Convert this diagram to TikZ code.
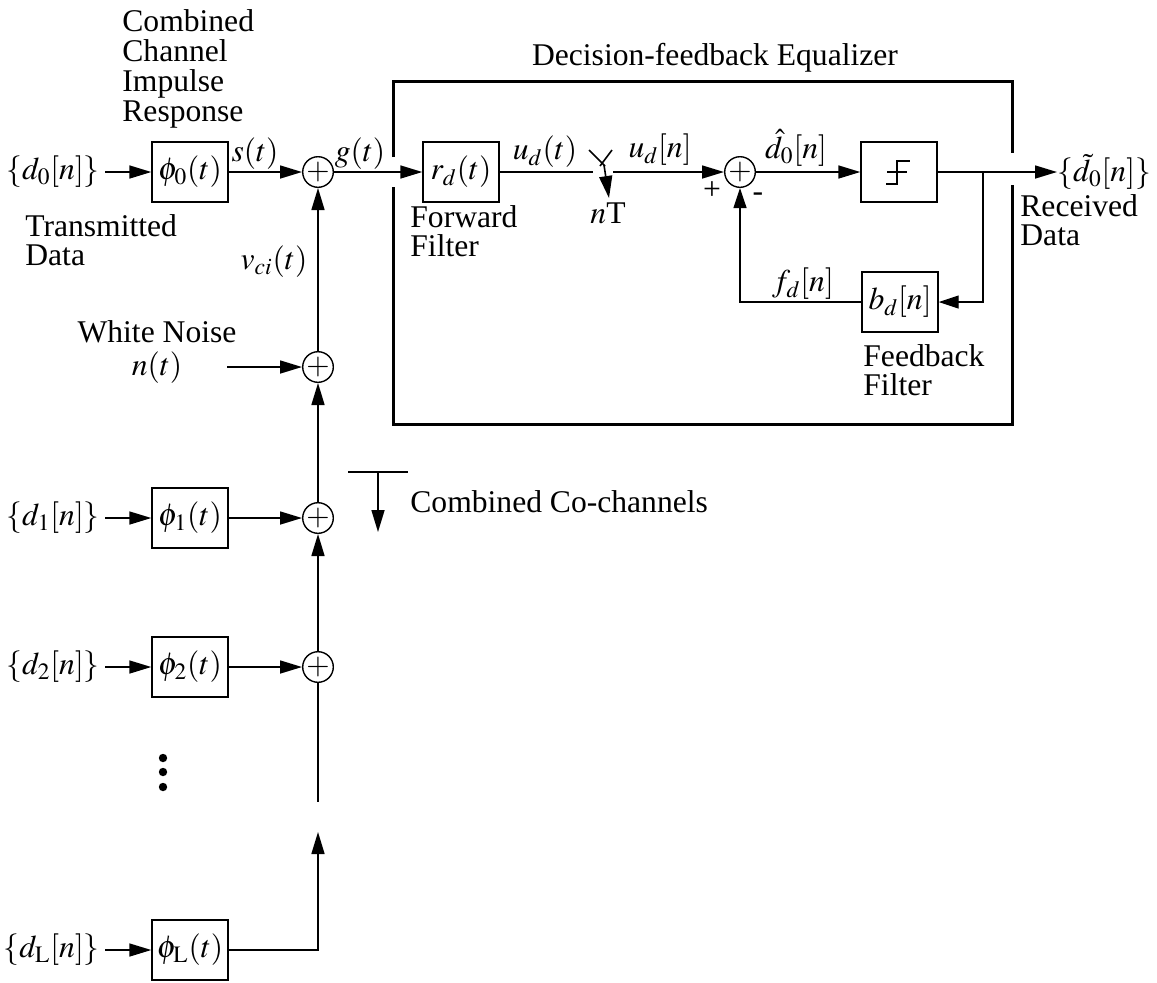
\documentclass[tikz,border=0pt]{standalone}
\usepackage{mathptmx}
\usepackage{fontspec}
\setmainfont{Liberation Serif}
\usetikzlibrary{positioning,arrows.meta,calc}

\begin{document}
\begin{tikzpicture}[
    x=0.5pt, y=-0.5pt,
    font=\fontsize{15.8}{14.5}\selectfont,
    blk/.style={draw, line width=0.7pt, minimum width=38pt, minimum height=30pt, inner sep=0pt},
    sumnode/.style={draw, circle, line width=0.7pt, minimum size=15pt, inner sep=0pt,
                    font=\fontsize{15}{15}\selectfont},
    src/.style={anchor=east, inner sep=2.5pt},
    lbl/.style={inner sep=0pt},
    txt/.style={align=left, inner sep=0pt, anchor=west},
    sig/.style={line width=0.8pt},
    arr/.style={sig, -{Triangle[length=11pt,width=6.5pt]}},
    fb/.style={line width=0.6pt},
    fbarr/.style={fb, -{Triangle[length=10pt,width=6.5pt]}},
    frame/.style={line width=1.5pt}
  ]
  \useasboundingbox (0,0) rectangle (1157,982);

  % ========= desired user, channel 0 =========
  \node[src]  (d0)   at (105,172) {$\{d_0[n]\}$};
  \node[blk]  (phi0) at (190,172) {$\phi_0(t)$};
  \node[sumnode] (sum1) at (318,172) {$+$};
  \node[txt, font=\fontsize{15.8}{15}\selectfont] (cir) at (122,69) {Combined\\Channel\\Impulse\\Response};
  \node[txt] (tx)  at (25,240) {Transmitted\\Data};
  \node[lbl] (s)   at (255,154) {$s(t)$};
  \node[lbl] (g)   at (360,154) {$g(t)$};

  \draw[arr] (d0) -- (phi0);
  \draw[arr] (phi0) -- (sum1);

  % ========= noise and co-channels =========
  \node[sumnode] (sumn) at (318,367) {$+$};
  \node[align=center, inner sep=0pt] (noise) at (157,352) {White Noise\\[2pt]$n(t)$};
  \coordinate (nin) at (227,367);
  \node[lbl] (vci) at (274,262) {$v_{ci}(t)$};

  \node[src]  (d1)   at (105,518) {$\{d_1[n]\}$};
  \node[blk]  (phi1) at (190,518) {$\phi_1(t)$};
  \node[sumnode] (sum3) at (318,518) {$+$};

  \node[src]  (d2)   at (105,667) {$\{d_2[n]\}$};
  \node[blk]  (phi2) at (190,667) {$\phi_2(t)$};
  \node[sumnode] (sum4) at (318,667) {$+$};

  \foreach \y in {758,772,787} \fill (163,\y) circle (2.1pt);

  \node[src]  (dL)   at (105,950) {$\{d_{\mathrm{L}}[n]\}$};
  \node[blk]  (phiL) at (190,950) {$\phi_{\mathrm{L}}(t)$};
  \coordinate (gapt) at (318,802);
  \coordinate (gapb) at (318,832);

  \draw[arr] (nin) -- (sumn);
  \draw[arr] (sumn) -- (sum1);
  \draw[arr] (sum3) -- (sumn);
  \draw[arr] (sum4) -- (sum3);
  \draw[sig] (sum4) -- (gapt);
  \draw[arr] (phiL) -| (gapb);
  \draw[arr] (d1) -- (phi1);
  \draw[arr] (phi1) -- (sum3);
  \draw[arr] (d2) -- (phi2);
  \draw[arr] (phi2) -- (sum4);
  \draw[arr] (dL) -- (phiL);

  % combined co-channels marker
  \coordinate (cc-l) at (348,472);
  \coordinate (cc-r) at (408,472);
  \coordinate (cc-m) at (378,472);
  \coordinate (cc-tip) at (378,532);
  \draw[sig] (cc-l) -- (cc-r);
  \draw[arr] (cc-m) -- (cc-tip);
  \node[txt] (cclbl) at (410,502) {Combined Co-channels};

  % ========= decision-feedback equalizer =========
  \node (title) at (715,58) {Decision-feedback Equalizer};
  \draw[frame] (393,157) -- (393,81) -- (1012,81) -- (1012,153);
  \draw[frame] (393,187) -- (393,424) -- (1012,424) -- (1012,185);

  \node[blk] (rd) at (461,172) {$r_d(t)$};
  \node[txt] (fwd) at (410,231) {Forward\\Filter};
  \node[lbl] (ud)  at (545,152) {$u_d(t)$};

  % sampler
  \coordinate (sw-in)  at (593,172);
  \coordinate (sw-out) at (613,172);
  \draw[sig] (589,150) -- (605,166);
  \draw[sig] (612,150) -- (600,166);
  \draw[arr] (604,165) -- (609,198);
  \node[lbl] (nT) at (608,213) {$n$T};
  \node[lbl] (udn) at (660,150) {$u_d[n]$};

  \node[sumnode] (sum2) at (740,172) {$+$};
  \node[lbl] (plus)  at (712,191) {+};
  \node[lbl] (minus) at (758,197) {-};
  \node[lbl] (dhat)  at (796,148) {$\hat{d}_0[n]$};

  \node[blk] (slicer) at (899,172) {};
  \draw[line width=0.7pt] ([shift={(-13,12)}]slicer.center) -- ([shift={(-2,12)}]slicer.center)
        -- ([shift={(-2,-11)}]slicer.center) -- ([shift={(11,-11)}]slicer.center);
  \draw[line width=0.7pt] ([shift={(-12,0)}]slicer.center) -- ([shift={(8,0)}]slicer.center);

  \node[blk] (bd) at (900,302) {$b_d[n]$};
  \node[lbl] (fd) at (803,284) {$f_d[n]$};
  \node[txt] (fbk) at (863,370) {Feedback\\Filter};
  \coordinate (tap) at (983,172);

  \draw[arr] (sum1) -- (rd);
  \draw[sig] (rd) -- (sw-in);
  \draw[arr] (sw-out) -- (sum2);
  \draw[arr] (sum2) -- (slicer);
  \draw[fbarr] (tap) |- (bd);
  \draw[fbarr] (bd) -| (sum2);

  % ========= output =========
  \node[anchor=west, inner sep=0pt] (dout) at (1057,172) {$\{\tilde{d}_0[n]\}$};
  \node[txt] (rx) at (1020,220) {Received\\Data};
  \draw[arr] (slicer) -- (dout);

\end{tikzpicture}
\end{document}
